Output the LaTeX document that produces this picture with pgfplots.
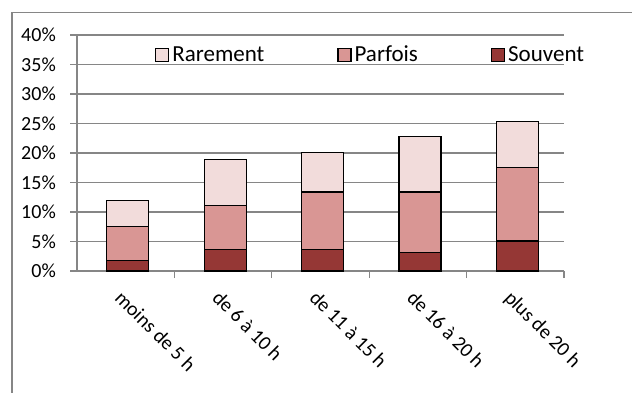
\documentclass[border=0pt]{standalone}
\usepackage{pgfplots}
\pgfplotsset{compat=1.18}
\usepackage{fontspec}
\setmainfont{Carlito}
\definecolor{souv}{HTML}{953735}
\definecolor{parf}{HTML}{D99694}
\definecolor{rare}{HTML}{F2DCDB}
\definecolor{gridc}{HTML}{868686}
\begin{document}
\begin{tikzpicture}[x=1bp,y=1bp]
\useasboundingbox (0,0) rectangle (632,392);
\begin{scope}
\clip (0,0) rectangle (632,392);
\draw[gridc, line width=1.2bp] (12,-10) -- (12,379.5) -- (650,379.5);
\end{scope}
\begin{axis}[
  at={(77bp,121bp)}, anchor=south west,
  width=487bp, height=236bp, scale only axis,
  xmin=0.5, xmax=5.5, ymin=0, ymax=40,
  clip=false,
  ybar stacked, bar width=42bp, bar shift=2bp,
  axis lines*=left,
  axis line style={gridc, line width=1.2bp},
  ymajorgrids, grid style={gridc, line width=1.2bp},
  tick align=outside, major tick length=7bp,
  tick style={gridc, line width=1.2bp},
  ytick={0,5,...,40}, yticklabels={},
  xtick={1.5,2.5,3.5,4.5,5.5}, xticklabels={},
  every axis plot/.append style={draw=black, line width=1.2bp},
  reverse legend,
  legend columns=3,
  legend style={at={(rel axis cs:0.16,0.916)}, anchor=west, draw=none, fill=none,
    inner sep=0pt, font=\fontsize{23bp}{27bp}\selectfont,
    nodes={inner sep=0pt},
    /tikz/every odd column/.style={column sep=3bp},
    /tikz/every even column/.style={column sep=73bp}},
  legend image code/.code={\draw[#1, draw=black, line width=1.2bp] (0bp,-6.5bp) rectangle (13bp,6.5bp);},
]
\addplot[fill=souv] coordinates {(1,1.8) (2,3.7) (3,3.6) (4,3.1) (5,5.1)};
\addplot[fill=parf] coordinates {(1,5.7) (2,7.4) (3,9.8) (4,10.3) (5,12.4)};
\addplot[fill=rare] coordinates {(1,4.4) (2,7.8) (3,6.7) (4,9.4) (5,7.9)};
\legend{Souvent, Parfois, Rarement}
\pgfplotsinvokeforeach{0,5,10,15,20,25,30,35,40}{
  \node[anchor=east, inner sep=0pt, font=\fontsize{20bp}{24bp}\selectfont] at (axis cs:0.2844,#1) {#1\%};
}
\node[rotate=-45, anchor=north west, inner sep=0pt, font=\fontsize{20bp}{24bp}\selectfont] at (axis cs:0.98,-3.05) {moins de 5 h};
\node[rotate=-45, anchor=north west, inner sep=0pt, font=\fontsize{20bp}{24bp}\selectfont] at (axis cs:1.98,-3.05) {de 6 à 10 h};
\node[rotate=-45, anchor=north west, inner sep=0pt, font=\fontsize{20bp}{24bp}\selectfont] at (axis cs:2.98,-3.05) {de 11 à 15 h};
\node[rotate=-45, anchor=north west, inner sep=0pt, font=\fontsize{20bp}{24bp}\selectfont] at (axis cs:3.98,-3.05) {de 16 à 20 h};
\node[rotate=-45, anchor=north west, inner sep=0pt, font=\fontsize{20bp}{24bp}\selectfont] at (axis cs:4.98,-3.05) {plus de 20 h};
\end{axis}
\end{tikzpicture}
\end{document}
